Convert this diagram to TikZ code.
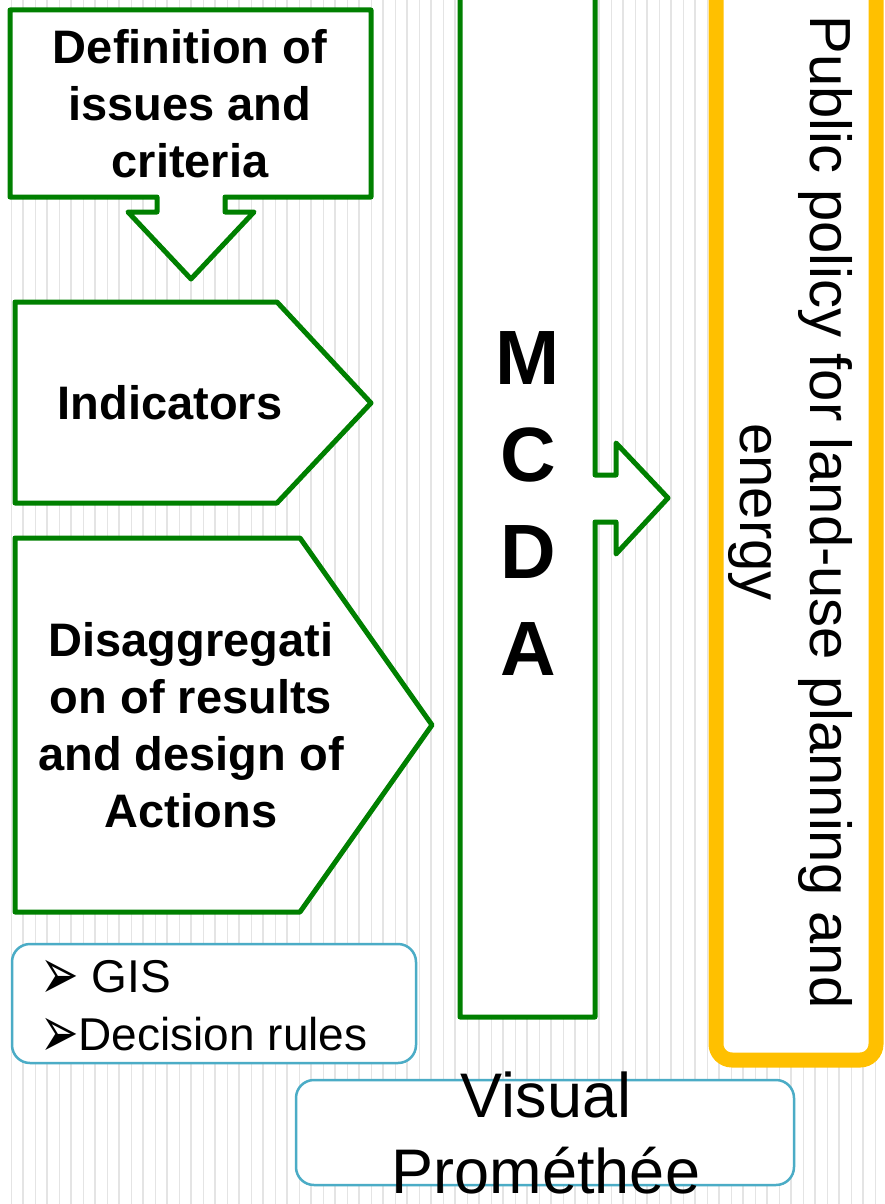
\documentclass[tikz,border=0pt]{standalone}
\usepackage{fontspec}
\usepackage{graphicx}
\setmainfont{Liberation Sans}
\newfontfamily\djv{DejaVu Sans}
\newcommand{\mybullet}{\raisebox{-7pt}[0pt][0pt]{\scalebox{1}[1.6]{\djv ➢}}}
\definecolor{grn}{RGB}{0,128,0}
\definecolor{blu}{RGB}{75,172,198}
\definecolor{org}{RGB}{255,192,0}
\definecolor{bgl}{RGB}{228,228,228}
\begin{document}
\begin{tikzpicture}[x=1pt,y=-1pt,
  gshape/.style={draw=grn, line width=5pt, fill=white, line join=round},
  bluebox/.style={draw=blu, line width=2.5pt, fill=white, rounded corners=18pt},
  boldtext/.style={font=\fontsize{47}{57}\selectfont\bfseries, align=center, inner sep=0pt},
  plaintext/.style={font=\fontsize{46}{58}\selectfont, inner sep=0pt}]
\useasboundingbox (0,0) rectangle (885,1204);
\clip (0,0) rectangle (885,1204);
\fill[white] (0,0) rectangle (885,1204);
\foreach \i in {0,...,36} {
  \draw[bgl, line width=1pt] ({11+24*\i},0) -- ({11+24*\i},1204);
  \draw[bgl, line width=2pt] ({23+24*\i},0) -- ({23+24*\i},1204);
}
% Definition box with down arrow
\draw[gshape] (10,10) -- (371,10) -- (371,197) -- (225,197) -- (225,212) -- (254,212)
  -- (191,279) -- (128,212) -- (157,212) -- (157,197) -- (10,197) -- cycle;
\node[boldtext] (def) at (190,104) {Definition of\\issues and\\criteria};
% Indicators pentagon
\draw[gshape] (15,302) -- (277,302) -- (371,403) -- (277,503) -- (15,503) -- cycle;
\node[boldtext] (ind) at (170,403) {Indicators};
% Disaggregation pentagon
\draw[gshape] (15,538) -- (300,538) -- (432,725) -- (300,912) -- (15,912) -- cycle;
\node[boldtext] (dis) at (191,725) {Disaggregati\\on of results\\and design of\\Actions};
% MCDA column with right arrow
\draw[gshape] (460,-20) -- (595,-20) -- (595,475) -- (616,475) -- (616,443) -- (668,498)
  -- (616,554) -- (616,522) -- (595,522) -- (595,1017) -- (460,1017) -- cycle;
\node[font=\fontsize{77}{97}\selectfont\bfseries, align=center, inner sep=0pt] (mcda) at (528,504) {M\\C\\D\\A};
% Public policy box
\draw[org, line width=15pt, fill=white, rounded corners=16pt] (716,-40) rectangle (876,1060);
\node[font=\fontsize{58}{70}\selectfont, align=center, inner sep=0pt, rotate=-90] (pol) at (790,512)
  {Public policy for land-use planning and\\energy};
% GIS box
\draw[bluebox] (12,944) rectangle (416,1063);
\node[plaintext, anchor=base west] (gis) at (40,992) {\mybullet{} GIS};
\node[plaintext, anchor=base west] (rules) at (40,1050) {\mybullet Decision rules};
% Visual Promethee box
\draw[bluebox] (296,1080) rectangle (794,1185);
\node[font=\fontsize{63}{76}\selectfont, align=center, inner sep=0pt] (vp) at (546,1133) {Visual\\Prométhée};
\end{tikzpicture}
\end{document}
